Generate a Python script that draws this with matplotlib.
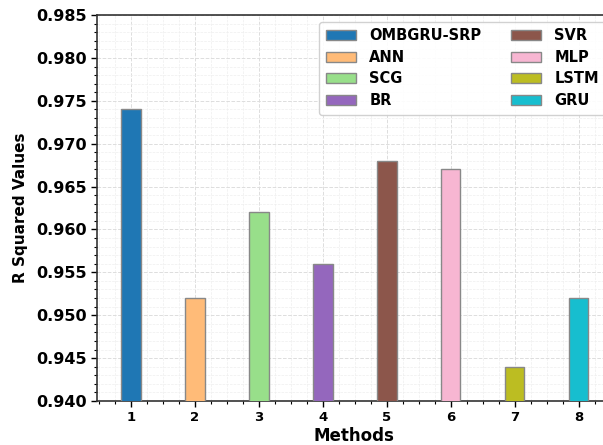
import matplotlib
matplotlib.use("Agg")
import matplotlib.pyplot as plt
from matplotlib.ticker import MultipleLocator
from matplotlib.patches import Patch

methods = ["OMBGRU-SRP", "ANN", "SCG", "BR", "SVR", "MLP", "LSTM", "GRU"]
positions = [1, 2, 3, 4, 5, 6, 7, 8]
r2_values = [0.974, 0.952, 0.962, 0.956, 0.968, 0.967, 0.944, 0.952]
colors = ["#1f77b4", "#ffbb78", "#98df8a", "#9467bd",
          "#8c564b", "#f7b6d2", "#bcbd22", "#17becf"]

plt.rcParams["font.family"] = "DejaVu Sans"
plt.rcParams["font.weight"] = "bold"

fig = plt.figure(figsize=(6.03, 4.45), dpi=100)
ax = fig.add_axes([0.161, 0.099, 0.852, 0.867])

ax.bar(positions, r2_values, width=0.3, color=colors,
       edgecolor="#888888", linewidth=1.0, zorder=3)

ax.set_ylim(0.940, 0.985)
ax.set_xlim(0.47, 8.5)
ax.yaxis.set_major_locator(MultipleLocator(0.005))
ax.yaxis.set_minor_locator(MultipleLocator(0.001))
ax.xaxis.set_major_locator(MultipleLocator(1))
ax.xaxis.set_minor_locator(MultipleLocator(0.25))
ax.set_xticks(positions)

ax.grid(which="major", color="#dddddd", linestyle="--", linewidth=0.7, zorder=0)
ax.grid(which="minor", color="#eeeeee", linestyle="--", linewidth=0.5, zorder=0)

ax.tick_params(axis="y", which="major", labelsize=11.5, length=4, width=1)
ax.tick_params(axis="x", which="major", labelsize=9.5, length=4, width=1)
ax.tick_params(which="minor", length=2, width=0.8)
for lbl in ax.get_xticklabels() + ax.get_yticklabels():
    lbl.set_fontweight("bold")

for sp in ax.spines.values():
    sp.set_linewidth(1.2)
    sp.set_color("#333333")

ax.set_xlabel("Methods", fontsize=12, fontweight="bold", labelpad=2)
ax.set_ylabel("R Squared Values", fontsize=11, fontweight="bold", labelpad=6)

handles = [Patch(facecolor=c, edgecolor="#888888", label=m)
           for m, c in zip(methods, colors)]
ax.legend(handles=handles, ncol=2, loc="upper left",
          bbox_to_anchor=(0.529, 0.951), bbox_transform=fig.transFigure,
          prop={"weight": "bold", "size": 10.5}, frameon=True,
          framealpha=0.9, edgecolor="#cccccc", handlelength=2.1,
          handleheight=0.7, handletextpad=0.9,
          columnspacing=2.0, labelspacing=0.45, borderpad=0.45,
          borderaxespad=0)

fig.savefig("out.png", dpi=100)
